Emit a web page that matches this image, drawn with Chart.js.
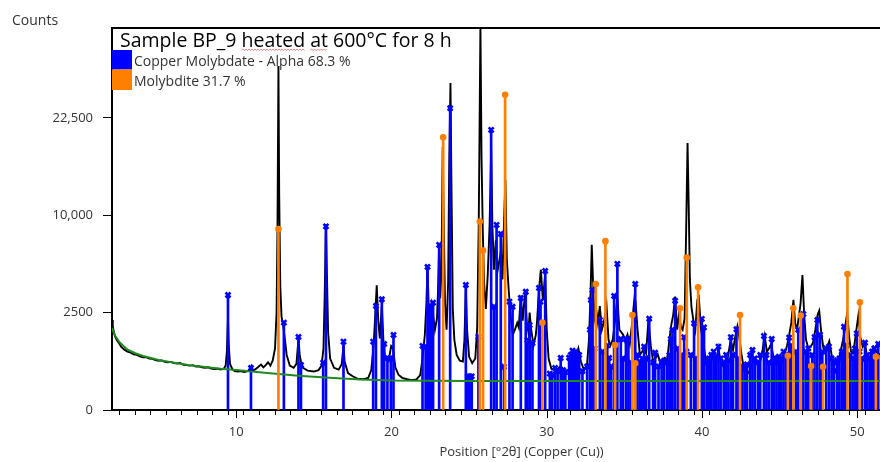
<!DOCTYPE html>
<html lang="en">
<head>
<meta charset="UTF-8">
<title>Sample BP_9 heated at 600°C for 8 h</title>
<script src="https://cdn.jsdelivr.net/npm/chart.js"></script>
<style>
    html, body { margin: 0; padding: 0; background: #fff; overflow: hidden; }
    canvas { display: block; }
</style>
</head>
<body>
<canvas id="xrd" width="940" height="462"></canvas>
<script>
// ---- data (2theta in degrees, counts) ----
const titleText = 'Sample BP_9 heated at 600°C for 8 h';
const phaseNames = ['Copper Molybdate - Alpha', 'Molybdite'];
const phasePercent = ['68.3 %', '31.7 %'];
const phaseColors = ['#0000ff', '#ff8000'];

const yTicks = [0, 2500, 10000, 22500];
const yTickLabels = ['0', '2500', '10,000', '22,500'];
const xMajor = [10, 20, 30, 40, 50];

// measured pattern
const observed = [
    [2.00, 2140], [2.05, 1850], [2.12, 1600], [2.20, 1420], [2.30, 1300], [2.45, 1180], [2.60, 1050], [2.80, 960],
    [3.00, 900], [3.20, 870], [3.40, 820], [3.60, 800], [3.80, 760], [4.00, 730], [4.20, 740], [4.40, 700],
    [4.60, 690], [4.80, 660], [5.00, 640], [5.20, 650], [5.40, 610], [5.60, 600], [5.80, 610], [6.00, 580],
    [6.20, 570], [6.40, 585], [6.60, 540], [6.80, 530], [7.00, 520], [7.20, 530], [7.40, 500], [7.60, 505],
    [7.80, 480], [8.00, 470], [8.20, 480], [8.40, 455], [8.60, 445], [8.80, 450], [9.00, 430], [9.20, 450],
    [9.32, 520], [9.40, 900], [9.47, 2235], [9.52, 1100], [9.60, 560], [9.75, 440], [9.90, 400], [10.10, 390],
    [10.30, 400], [10.50, 380], [10.70, 395], [10.90, 420], [10.97, 500], [11.05, 410], [11.25, 440], [11.45, 500],
    [11.60, 545], [11.75, 480], [11.90, 530], [12.05, 600], [12.20, 520], [12.35, 640], [12.50, 1000], [12.60, 2500],
    [12.66, 9000], [12.72, 31200], [12.77, 12000], [12.84, 4000], [12.92, 2300], [13.02, 1900], [13.12, 1400], [13.25, 800],
    [13.45, 520], [13.70, 470], [13.88, 560], [13.96, 1000], [14.02, 1300], [14.09, 800], [14.17, 620], [14.30, 470],
    [14.60, 410], [15.00, 390], [15.30, 420], [15.50, 520], [15.62, 1000], [15.70, 3500], [15.78, 9100], [15.84, 5000],
    [15.92, 1600], [16.05, 700], [16.30, 470], [16.60, 430], [16.80, 560], [16.91, 1100], [16.98, 620], [17.20, 360],
    [17.50, 300], [17.80, 260], [18.20, 250], [18.50, 270], [18.70, 420], [18.85, 1100], [18.95, 2300], [19.05, 4100],
    [19.15, 2100], [19.25, 1350], [19.38, 2900], [19.48, 1300], [19.58, 700], [19.70, 720], [19.82, 640], [19.98, 1080],
    [20.10, 1000], [20.25, 480], [20.45, 330], [20.70, 270], [21.00, 250], [21.30, 235], [21.60, 245], [21.85, 320],
    [22.00, 700], [22.15, 1500], [22.25, 3000], [22.32, 5450], [22.40, 2800], [22.50, 2400], [22.57, 2950], [22.65, 2600],
    [22.80, 1700], [22.93, 2200], [23.00, 3800], [23.07, 7300], [23.14, 3300], [23.22, 5000], [23.30, 18300], [23.37, 9000],
    [23.45, 3000], [23.55, 1700], [23.65, 4300], [23.72, 16000], [23.80, 28200], [23.86, 14000], [23.95, 2700], [24.05, 1300],
    [24.20, 800], [24.40, 640], [24.60, 620], [24.70, 1300], [24.79, 4000], [24.87, 1700], [25.00, 750], [25.20, 580],
    [25.40, 700], [25.52, 1800], [25.62, 9000], [25.73, 39000], [25.80, 17000], [25.88, 8500], [25.97, 4200], [26.08, 2700],
    [26.20, 4800], [26.32, 9000], [26.42, 18000], [26.50, 9000], [26.60, 5200], [26.72, 7600], [26.82, 5000], [26.95, 5900],
    [27.05, 6700], [27.15, 4500], [27.25, 9500], [27.34, 14000], [27.43, 6000], [27.55, 3800], [27.68, 2300], [27.82, 1500],
    [27.95, 1700], [28.10, 2000], [28.20, 1800], [28.33, 3450], [28.45, 2100], [28.60, 3600], [28.72, 2000], [28.82, 1600],
    [28.90, 2500], [29.00, 1700], [29.15, 1100], [29.30, 1500], [29.38, 2100], [29.50, 3800], [29.62, 5200], [29.75, 3200],
    [29.90, 4800], [30.00, 1700], [30.12, 700], [30.30, 450], [30.50, 420], [30.70, 440], [30.90, 510], [31.10, 430],
    [31.30, 400], [31.50, 440], [31.70, 560], [31.85, 680], [32.04, 1000], [32.20, 620], [32.40, 420], [32.60, 560],
    [32.72, 1300], [32.82, 3500], [32.90, 7200], [32.98, 4400], [33.08, 2200], [33.20, 2600], [33.30, 2000], [33.42, 2850],
    [33.55, 1700], [33.70, 2100], [33.85, 2900], [33.98, 1300], [34.10, 1100], [34.25, 1300], [34.40, 2100], [34.55, 3350],
    [34.68, 1700], [34.80, 1600], [34.92, 1500], [35.05, 1250], [35.20, 1500], [35.35, 1150], [35.50, 2000], [35.65, 3300],
    [35.72, 3100], [35.85, 1700], [36.00, 800], [36.15, 900], [36.27, 1000], [36.40, 850], [36.55, 2150], [36.70, 1100],
    [36.85, 620], [37.00, 700], [37.15, 820], [37.30, 600], [37.45, 680], [37.60, 720], [37.75, 640], [37.90, 1300],
    [38.02, 1900], [38.15, 2400], [38.27, 3400], [38.40, 1700], [38.52, 2400], [38.65, 1800], [38.75, 1700], [38.88, 2200],
    [38.98, 8500], [39.07, 18800], [39.15, 10500], [39.22, 4500], [39.32, 2800], [39.45, 2100], [39.57, 1700], [39.70, 3200],
    [39.80, 3350], [39.92, 1800], [40.05, 1300], [40.20, 800], [40.35, 520], [40.50, 580], [40.65, 700], [40.80, 820],
    [40.95, 640], [41.05, 1000], [41.20, 640], [41.35, 520], [41.50, 600], [41.65, 700], [41.85, 1300], [42.00, 950],
    [42.15, 1450], [42.28, 1850], [42.40, 1400], [42.55, 800], [42.70, 450], [42.85, 380], [43.00, 360], [43.15, 480],
    [43.30, 620], [43.45, 600], [43.60, 560], [43.75, 620], [43.90, 950], [44.04, 1440], [44.18, 900], [44.30, 980],
    [44.45, 1150], [44.58, 800], [44.72, 660], [44.88, 600], [45.02, 700], [45.18, 750], [45.32, 820], [45.48, 1100],
    [45.62, 1500], [45.75, 2000], [45.89, 3200], [46.00, 2000], [46.12, 1700], [46.22, 2200], [46.35, 3000], [46.47, 4800],
    [46.58, 2400], [46.70, 1300], [46.85, 1000], [47.00, 1050], [47.15, 1200], [47.30, 1700], [47.45, 2400], [47.55, 2600],
    [47.68, 1600], [47.82, 1000], [47.95, 900], [48.10, 1100], [48.20, 1250], [48.35, 800], [48.50, 480], [48.62, 380],
    [48.78, 600], [48.92, 900], [49.05, 1200], [49.20, 1700], [49.35, 2480], [49.48, 1400], [49.60, 900], [49.75, 850],
    [49.90, 1500], [50.07, 2350], [50.20, 1400], [50.35, 1050], [50.50, 1150], [50.65, 720], [50.80, 680], [50.95, 950],
    [51.05, 1050], [51.20, 900], [51.35, 850], [51.50, 800], [51.70, 780], [52.00, 700]
];

// fitted background
const background = [
    [2.0, 1780], [2.2, 1450], [2.5, 1200], [3.0, 960], [3.5, 850], [4.0, 770], [5.0, 660], [6.0, 590],
    [7.0, 530], [8.0, 490], [9.0, 450], [10.0, 420], [12.0, 360], [14.0, 310], [16.0, 275], [18.0, 245],
    [20.0, 230], [25.0, 222], [30.0, 222], [40.0, 222], [54.0, 222]
];

// reference pattern: Copper Molybdate - Alpha
const cuMoPos = [
    9.47, 10.95, 13.07, 14.01, 14.17, 15.60, 15.78, 16.91, 18.82, 19.00,
    19.38, 19.53, 19.74, 19.96, 20.13, 22.00, 22.20, 22.32, 22.43, 22.54,
    22.68, 23.07, 23.78, 24.79, 24.92, 25.03, 25.17, 25.60, 26.42, 26.61,
    26.77, 27.04, 27.25, 27.60, 27.80, 28.33, 28.65, 28.76, 28.90, 29.08,
    29.50, 29.60, 29.90, 30.20, 30.35, 30.54, 30.70, 30.90, 31.05, 31.20,
    31.44, 31.55, 31.66, 31.77, 31.87, 31.98, 32.09, 32.30, 32.60, 32.78,
    32.84, 32.95, 33.08, 33.42, 33.60, 33.90, 34.02, 34.15, 34.34, 34.55,
    34.77, 34.90, 35.10, 35.26, 35.40, 35.70, 35.85, 36.00, 36.15, 36.27,
    36.40, 36.60, 36.85, 36.98, 37.20, 37.40, 37.56, 37.75, 37.90, 37.99,
    38.10, 38.27, 38.45, 38.70, 38.85, 39.00, 39.28, 39.49, 39.60, 39.99,
    40.13, 40.30, 40.45, 40.60, 40.75, 40.90, 41.06, 41.20, 41.40, 41.55,
    41.70, 41.86, 42.00, 42.22, 42.35, 42.60, 42.75, 42.90, 43.10, 43.25,
    43.40, 43.60, 43.75, 43.99, 44.15, 44.30, 44.49, 44.65, 44.80, 44.95,
    45.10, 45.25, 45.40, 45.61, 45.75, 46.05, 46.20, 46.53, 46.70, 46.85,
    47.10, 47.25, 47.43, 47.60, 47.75, 48.00, 48.18, 48.35, 48.50, 48.70,
    48.85, 49.00, 49.15, 49.30, 49.55, 49.70, 49.85, 49.97, 50.15, 50.30,
    50.50, 50.65, 50.80, 50.95, 51.10, 51.35
];
const cuMoCounts = [
    3490, 466, 2013, 1407, 534, 590, 8900, 1232, 1232, 2856,
    3236, 1150, 714, 714, 1485, 1082, 1060, 5400, 2750, 2815,
    3040, 7190, 24030, 4126, 300, 300, 300, 1420, 20700, 2815,
    9040, 8180, 495, 3100, 2815, 3310, 3690, 1294, 1900, 1185,
    3930, 3100, 5100, 350, 330, 466, 400, 714, 420, 380,
    720, 800, 930, 850, 900, 700, 800, 400, 500, 1700,
    3195, 3800, 1000, 2140, 900, 1100, 714, 500, 3430, 5630,
    1330, 700, 1330, 1330, 600, 4190, 800, 600, 700, 1060,
    700, 2200, 600, 865, 500, 600, 640, 600, 800, 1330,
    1700, 3150, 1000, 800, 1400, 900, 800, 1985, 700, 2190,
    1800, 600, 700, 800, 900, 750, 1060, 700, 600, 800,
    650, 1400, 800, 1720, 700, 500, 450, 550, 800, 950,
    700, 600, 800, 1445, 800, 600, 1330, 700, 600, 750,
    650, 900, 800, 1380, 1100, 900, 1700, 2430, 900, 1000,
    800, 1400, 2140, 1500, 900, 1000, 1060, 700, 600, 650,
    700, 900, 1830, 1100, 800, 700, 1000, 1550, 900, 700,
    1195, 800, 700, 900, 1000, 1150
];

// reference pattern: Molybdite
const molyPos = [12.72, 23.33, 25.69, 25.90, 27.32, 29.72, 33.16, 33.78, 34.40, 35.52, 35.70, 38.59,
    39.02, 39.75, 42.45, 45.53, 45.88, 46.36, 47.03, 47.80, 49.37, 50.17, 51.20];
const molyCounts = [8650, 19630, 9365, 6700, 26200, 2013, 4190, 7520, 1115, 2380, 576, 2730,
    6125, 3975, 2380, 778, 2730, 2350, 511, 495, 4885, 3060, 750];

// ---- square-root intensity axis ----
const LinearScale = Chart.registry.getScale('linear');
class SqrtScale extends LinearScale {
    _sq(v) { return Math.sqrt(Math.max(v, 0)); }
    getPixelForValue(value) {
        const lo = this._sq(this.min), hi = this._sq(this.max);
        return this.getPixelForDecimal((this._sq(value) - lo) / (hi - lo));
    }
    getValueForPixel(pixel) {
        const lo = this._sq(this.min), hi = this._sq(this.max);
        const s = lo + this.getDecimalForPixel(pixel) * (hi - lo);
        return s * s;
    }
}
SqrtScale.id = 'sqrt';
SqrtScale.defaults = LinearScale.defaults;
Chart.register(SqrtScale);

const toPoints = (pos, counts) => pos.map((x, i) => ({ x: x, y: counts[i] }));
const pairs = list => list.map(p => ({ x: p[0], y: p[1] }));

function squiggle(ctx, x0, x1, y) {
    ctx.beginPath();
    ctx.moveTo(x0, y);
    let up = true;
    for (let x = x0 + 1.5; x <= x1; x += 1.5) {
        ctx.lineTo(x, up ? y - 1 : y + 0.5);
        up = !up;
    }
    ctx.stroke();
}

function fitFont(ctx, text, width, start) {
    let size = start;
    ctx.font = size + 'px "Open Sans"';
    while (ctx.measureText(text).width > width && size > 8) {
        size -= 0.25;
        ctx.font = size + 'px "Open Sans"';
    }
    return size;
}

const decor = {
    id: 'decor',
    afterDraw(chart) {
        const { ctx, chartArea: a, scales: { x } } = chart;
        ctx.save();
        // frame along the top
        ctx.strokeStyle = '#000';
        ctx.lineWidth = 2;
        ctx.beginPath();
        ctx.moveTo(a.left - 1, a.top);
        ctx.lineTo(a.right, a.top);
        ctx.stroke();
        // longer ticks at labelled positions
        ctx.lineWidth = 1;
        xMajor.forEach(v => {
            const px = Math.round(x.getPixelForValue(v)) + 0.5;
            ctx.beginPath();
            ctx.moveTo(px, a.bottom);
            ctx.lineTo(px, a.bottom + 8);
            ctx.stroke();
        });

        ctx.fillStyle = '#333';
        ctx.textBaseline = 'alphabetic';
        ctx.font = '14px "Open Sans"';
        ctx.fillText('Counts', 12, 25);

        // title
        ctx.fillStyle = '#000';
        fitFont(ctx, titleText, 335, 20);
        const tx = a.left + 8;
        ctx.fillText(titleText, tx, 46.5);
        const pre1 = ctx.measureText('Sample BP_9 ').width;
        const w1 = ctx.measureText('heated').width;
        const pre2 = ctx.measureText('Sample BP_9 heated ').width;
        const w2 = ctx.measureText('at').width;
        ctx.strokeStyle = 'rgba(225, 90, 90, 0.75)';
        ctx.lineWidth = 1;
        squiggle(ctx, tx + pre1, tx + pre1 + w1, 50);
        squiggle(ctx, tx + pre2, tx + pre2 + w2, 50);

        // legend
        const rows = [[50, 69.5, 65.5], [69.5, 90, 86]];
        rows.forEach((r, i) => {
            ctx.fillStyle = phaseColors[i];
            ctx.fillRect(a.left, r[0], 20, r[1] - r[0]);
            ctx.fillStyle = '#333';
            const label = phaseNames[i] + ' ' + phasePercent[i];
            fitFont(ctx, label, i === 0 ? 223 : 114, 14);
            ctx.fillText(label, a.left + 22, r[2]);
        });
        ctx.restore();
    }
};

Chart.defaults.font.family = '"Open Sans", sans-serif';
Chart.defaults.font.size = 13;
Chart.defaults.color = '#333';

new Chart(document.getElementById('xrd'), {
    type: 'scatter',
    data: {
        datasets: [
            {
                type: 'line',
                label: 'Observed',
                data: pairs(observed),
                borderColor: '#000',
                borderWidth: 1.9,
                pointRadius: 0,
                tension: 0,
                order: 6
            },
            {
                type: 'bar',
                label: phaseNames[0],
                data: toPoints(cuMoPos, cuMoCounts),
                backgroundColor: phaseColors[0],
                barThickness: 2,
                grouped: false,
                order: 5
            },
            {
                type: 'line',
                label: 'Background',
                data: pairs(background),
                borderColor: '#1f8a1f',
                borderWidth: 2,
                pointRadius: 0,
                tension: 0,
                order: 4
            },
            {
                label: phaseNames[0] + ' peaks',
                data: toPoints(cuMoPos, cuMoCounts),
                pointStyle: 'crossRot',
                pointRadius: 3.5,
                borderWidth: 2.6,
                borderColor: phaseColors[0],
                backgroundColor: phaseColors[0],
                order: 3
            },
            {
                type: 'bar',
                label: phaseNames[1],
                data: toPoints(molyPos, molyCounts),
                backgroundColor: phaseColors[1],
                barThickness: 2,
                grouped: false,
                order: 2
            },
            {
                label: phaseNames[1] + ' peaks',
                data: toPoints(molyPos, molyCounts),
                pointStyle: 'circle',
                pointRadius: 3.3,
                borderWidth: 0,
                backgroundColor: phaseColors[1],
                order: 1
            }
        ]
    },
    options: {
        responsive: false,
        animation: false,
        events: [],
        layout: { padding: { top: 28, right: 9, left: 0, bottom: 0 } },
        plugins: {
            legend: { display: false },
            tooltip: { enabled: false }
        },
        scales: {
            x: {
                type: 'linear',
                min: 2,
                max: 54.75,
                offset: false,
                afterFit: s => { s.height = 52; },
                afterBuildTicks: s => {
                    const t = [];
                    for (let v = 2; v <= 54; v++) t.push({ value: v });
                    s.ticks = t;
                },
                grid: { drawOnChartArea: false, tickLength: 5, tickColor: '#000', tickWidth: 1 },
                border: { color: '#000', width: 2 },
                ticks: {
                    autoSkip: false,
                    maxRotation: 0,
                    padding: 9,
                    color: '#333',
                    callback: v => xMajor.includes(v) ? String(v) : ''
                },
                title: {
                    display: true,
                    text: 'Position [°2θ] (Copper (Cu))',
                    color: '#333',
                    font: { size: 13 },
                    padding: { top: 0, bottom: 2 }
                }
            },
            y: {
                type: 'sqrt',
                min: 0,
                max: 38500,
                afterFit: s => { s.width = 112; },
                afterBuildTicks: s => { s.ticks = yTicks.map(v => ({ value: v })); },
                grid: { drawOnChartArea: false, tickLength: 9, tickColor: '#000', tickWidth: 1 },
                border: { color: '#000', width: 2 },
                ticks: {
                    padding: 10,
                    color: '#333',
                    callback: v => yTickLabels[yTicks.indexOf(v)]
                }
            }
        }
    },
    plugins: [decor]
});
</script>
</body>
</html>
